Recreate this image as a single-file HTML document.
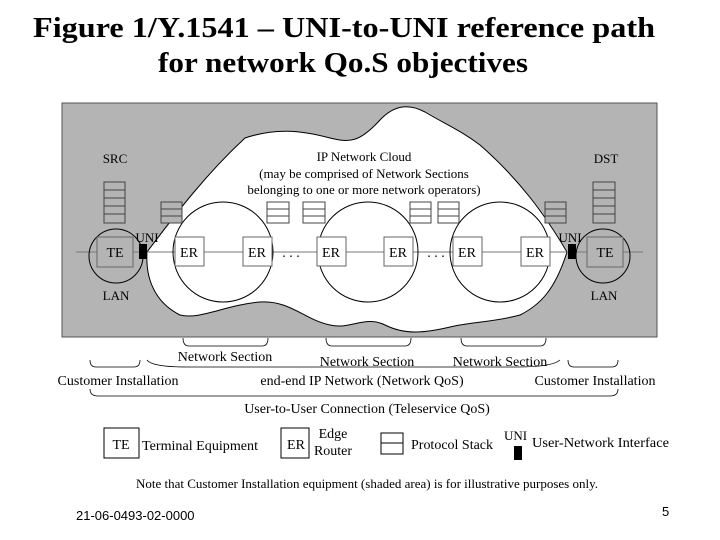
<!DOCTYPE html>
<html><head><style>
body{margin:0;background:#fff;width:720px;height:540px;overflow:hidden}
svg{display:block}
</style></head><body>
<svg width="720" height="540" viewBox="0 0 720 540" font-family="'Liberation Serif',serif">
<text x="344" y="37" font-size="28" font-weight="bold" text-anchor="middle" textLength="622" lengthAdjust="spacingAndGlyphs">Figure 1/Y.1541 – UNI-to-UNI reference path</text>
<text x="343" y="72" font-size="28" font-weight="bold" text-anchor="middle" textLength="370" lengthAdjust="spacingAndGlyphs">for network Qo.S objectives</text>

<rect x="62" y="103" width="595" height="234" fill="#b4b4b4" stroke="#555" stroke-width="1"/>
<path d="M147,252 C175,215 205,175 245,138 C275,128 300,130 330,138 C350,143 360,142 380,120 C395,104 410,104 425,112 C445,124 460,130 480,145 C520,180 545,215 567,252 C555,290 540,305 520,315 C495,322 470,322 450,327 C425,333 405,335 385,325 C365,315 350,330 330,325 C305,320 290,300 260,302 C225,305 200,320 180,315 C160,305 145,285 147,252 Z" fill="#fff" stroke="#000" stroke-width="1"/>

<line x1="76" y1="252" x2="643" y2="252" stroke="#777" stroke-width="1"/>
<g fill="none" stroke="#000" stroke-width="1">
<circle cx="223" cy="252" r="50"/>
<circle cx="368" cy="252" r="50"/>
<circle cx="500" cy="252" r="50"/>
<circle cx="116" cy="256" r="27"/>
<circle cx="603" cy="256" r="27"/>
</g>
<g stroke="#666" fill="#b4b4b4">
<rect x="97" y="237" width="36" height="30"/>
<rect x="587" y="237" width="36" height="30"/>
</g>
<g stroke="#666" fill="#fff">
<rect x="175" y="237" width="29" height="29"/>
<rect x="243" y="237" width="29" height="29"/>
<rect x="317" y="237" width="29" height="29"/>
<rect x="384" y="237" width="29" height="29"/>
<rect x="453" y="237" width="29" height="29"/>
<rect x="521" y="237" width="29" height="29"/>
</g>
<g font-size="14" text-anchor="middle">
<text x="115" y="257">TE</text><text x="605" y="257">TE</text>
<text x="189" y="257">ER</text><text x="257" y="257">ER</text><text x="331" y="257">ER</text>
<text x="398" y="257">ER</text><text x="467" y="257">ER</text><text x="535" y="257">ER</text>
<text x="291" y="257">. . .</text><text x="436" y="257">. . .</text>
</g>
<rect x="139" y="244" width="8" height="15" fill="#000"/>
<rect x="568" y="244" width="8" height="15" fill="#000"/>
<text x="147" y="242" font-size="13" text-anchor="middle">UNI</text>
<text x="570" y="242" font-size="13" text-anchor="middle">UNI</text>

<g stroke="#444" stroke-width="1">
<g fill="#b4b4b4">
<rect x="104" y="182" width="21" height="41"/>
<line x1="104" y1="190" x2="125" y2="190"/><line x1="104" y1="198" x2="125" y2="198"/><line x1="104" y1="206" x2="125" y2="206"/><line x1="104" y1="214" x2="125" y2="214"/>
<rect x="593" y="182" width="22" height="41"/>
<line x1="593" y1="190" x2="615" y2="190"/><line x1="593" y1="198" x2="615" y2="198"/><line x1="593" y1="206" x2="615" y2="206"/><line x1="593" y1="214" x2="615" y2="214"/>
<rect x="161" y="202" width="21" height="21"/><line x1="161" y1="209" x2="182" y2="209"/><line x1="161" y1="216" x2="182" y2="216"/>
<rect x="545" y="202" width="21" height="21"/><line x1="545" y1="209" x2="566" y2="209"/><line x1="545" y1="216" x2="566" y2="216"/>
</g>
<g fill="#fff">
<rect x="267" y="202" width="22" height="21"/><line x1="267" y1="209" x2="289" y2="209"/><line x1="267" y1="216" x2="289" y2="216"/>
<rect x="303" y="202" width="22" height="21"/><line x1="303" y1="209" x2="325" y2="209"/><line x1="303" y1="216" x2="325" y2="216"/>
<rect x="410" y="202" width="21" height="21"/><line x1="410" y1="209" x2="431" y2="209"/><line x1="410" y1="216" x2="431" y2="216"/>
<rect x="438" y="202" width="21" height="21"/><line x1="438" y1="209" x2="459" y2="209"/><line x1="438" y1="216" x2="459" y2="216"/>
</g>
</g>

<g font-size="13" text-anchor="middle">
<text x="115" y="163">SRC</text><text x="606" y="163">DST</text>
<text x="116" y="300">LAN</text><text x="604" y="300">LAN</text>
<text x="364" y="161">IP Network Cloud</text>
<text x="364" y="178">(may be comprised of Network Sections</text>
<text x="364" y="194">belonging to one or more network operators)</text>
</g>

<g fill="none" stroke="#000" stroke-width="0.8">
<path d="M183,338 q0,8 6,8 h73 q6,0 6,-8"/>
<path d="M326,338 q0,8 6,8 h73 q6,0 6,-8"/>
<path d="M461,338 q0,8 6,8 h73 q6,0 6,-8"/>
<path d="M90,360 q0,7 6,7 h38 q6,0 6,-7"/>
<path d="M147,360 q5,7 40,7 h330 q35,0 43,-7"/>
<path d="M568,360 q0,7 6,7 h38 q6,0 6,-7"/>
<path d="M90,389 q0,7 8,7 h512 q8,0 8,-7"/>
</g>
<g font-size="14" text-anchor="middle">
<text x="225" y="361">Network Section</text>
<text x="367" y="366">Network Section</text>
<text x="500" y="366">Network Section</text>
<text x="118" y="385">Customer Installation</text>
<text x="362" y="385">end-end IP Network (Network QoS)</text>
<text x="595" y="385">Customer Installation</text>
<text x="367" y="413">User-to-User Connection (Teleservice QoS)</text>
</g>

<g stroke="#000" fill="#fff" stroke-width="1">
<rect x="104" y="428" width="35" height="30"/>
<rect x="281" y="428" width="28" height="30"/>
<rect x="381" y="433" width="22" height="21"/><line x1="381" y1="443" x2="403" y2="443"/>
</g>
<rect x="514" y="446" width="8" height="14" fill="#000"/>
<g font-size="14">
<text x="121" y="449" text-anchor="middle">TE</text>
<text x="142" y="450" textLength="116" lengthAdjust="spacingAndGlyphs">Terminal Equipment</text>
<text x="296" y="449" text-anchor="middle">ER</text>
<text x="333" y="438" text-anchor="middle">Edge</text>
<text x="333" y="455" text-anchor="middle">Router</text>
<text x="411" y="449" textLength="82" lengthAdjust="spacingAndGlyphs">Protocol Stack</text>
<text x="504" y="440" font-size="13">UNI</text>
<text x="532" y="447" textLength="137" lengthAdjust="spacingAndGlyphs">User-Network Interface</text>
<text x="367" y="488" text-anchor="middle" font-size="13">Note that Customer Installation equipment (shaded area) is for illustrative purposes only.</text>
</g>
<text x="76" y="520" font-size="13" font-family="'Liberation Sans Narrow','Liberation Sans',sans-serif">21-06-0493-02-0000</text>
<text x="662" y="516" font-size="13" font-family="'Liberation Sans',sans-serif">5</text>
</svg>
</body></html>
